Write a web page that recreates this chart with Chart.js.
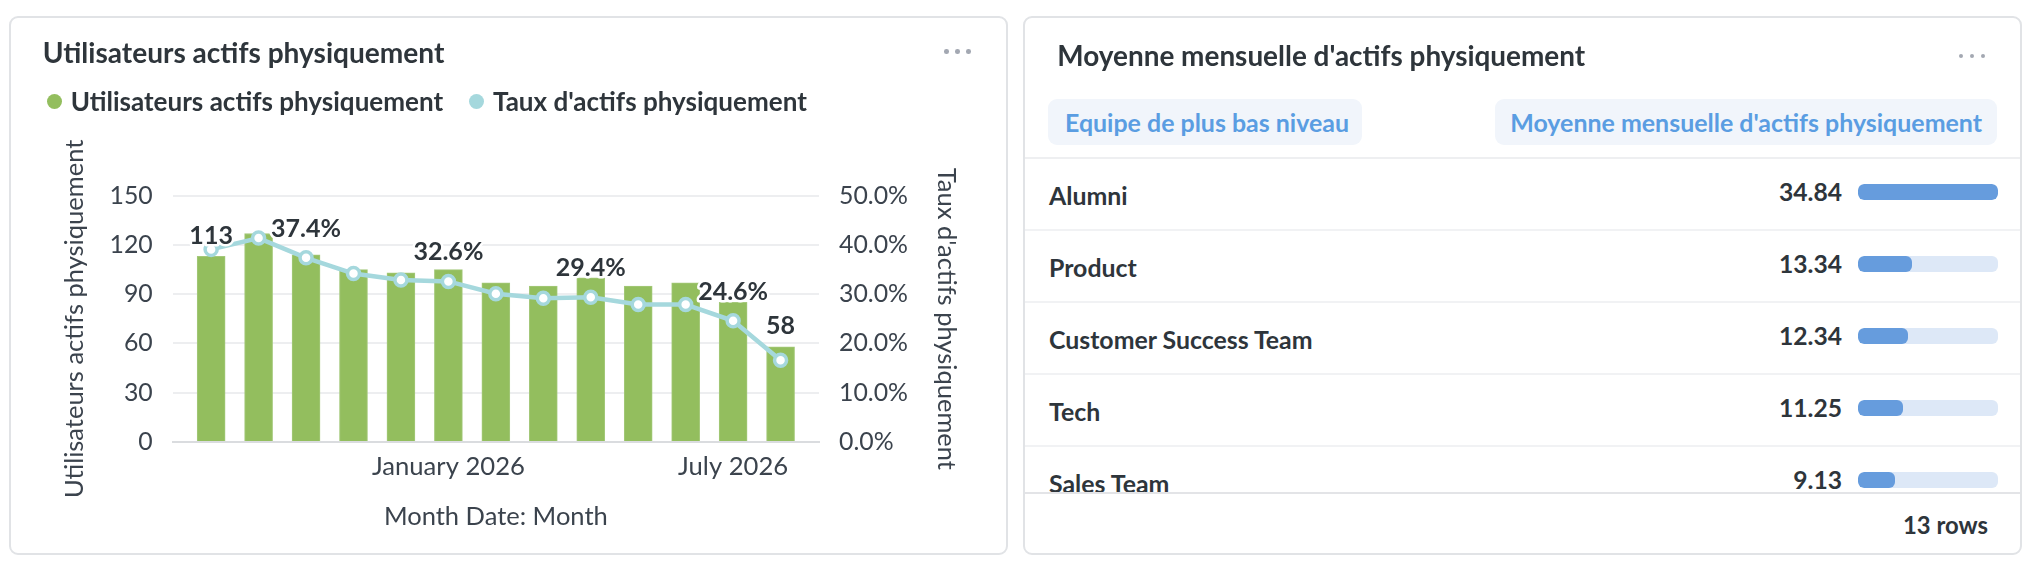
<!DOCTYPE html>
<html><head><meta charset="utf-8">
<script src="https://cdn.jsdelivr.net/npm/chart.js@4.4.1/dist/chart.umd.min.js"></script>
<style>
html,body{margin:0;padding:0;background:#fff;width:2026px;height:570px;overflow:hidden;font-family:Lato,"Noto Sans",sans-serif;color:#2E353B;}
.card{position:absolute;border:2px solid #E1E3E6;border-radius:9px;box-sizing:border-box;background:#fff;}
.t{position:absolute;line-height:1;white-space:nowrap;font-family:Lato,"Noto Sans",sans-serif;}
.abs{position:absolute;}
#c{position:absolute;left:0;top:0;width:1010px;height:570px;pointer-events:none;}
</style></head>
<body>
<div class="card" style="left:9px;top:16px;width:999px;height:539px;"></div>
<div class="card" style="left:1023px;top:16px;width:999px;height:539px;"></div>
<canvas id="c" width="1010" height="570"></canvas>
<script>
// ---------- data ----------
const months = ['August 2025','September 2025','October 2025','November 2025','December 2025','January 2026','February 2026','March 2026','April 2026','May 2026','June 2026','July 2026','August 2026'];
const activeUsers = [113,127,114,105,103,105,97,95,100,95,97,85,58];
const activeRate = [39.1,41.4,37.4,34.2,32.9,32.6,30.1,29.2,29.4,27.9,27.9,24.6,16.6];
const usersTicks = [0,30,60,90,120,150];
const rateTicks = [0,10,20,30,40,50];
const xTickMonths = ['January 2026','July 2026'];
const barLabelIdx = [0,12];
const lineLabelIdx = [2,5,8,11];
const teams = ['Alumni','Product','Customer Success Team','Tech','Sales Team'];
const teamAvg = [34.84,13.34,12.34,11.25,9.13];
const totalRows = 13;

// ---------- style ----------
const DARK = '#2E353B';
const TICK = '#3B434D';
const GREEN = '#93BE5E';
const TEAL = '#A5D8DD';
const BLUE = '#5A9DE2';
const W = 2026;

const mctx = document.createElement('canvas').getContext('2d');
function fitSize(text, weight, target){ mctx.font = weight+' 100px Lato'; return 100*target/mctx.measureText(text).width; }
function measure(text, weight, size){ mctx.font = weight+' '+size+'px Lato'; return mctx.measureText(text).width; }
function txt(text, o){
  const d=document.createElement('div'); d.className='t'; d.textContent=text;
  d.style.fontSize=o.size+'px'; d.style.fontWeight=o.weight||400; d.style.color=o.color||DARK;
  d.style.top=(o.base-0.887*o.size)+'px';
  if(o.align==='right') d.style.right=(W-o.x)+'px'; else d.style.left=o.x+'px';
  document.body.appendChild(d); return d;
}
function box(o){
  const d=document.createElement('div'); d.className='abs';
  Object.assign(d.style,o); document.body.appendChild(d); return d;
}
function dots(cx, cy){
  [-11,0,11].forEach(dx=>box({left:(cx+dx-2.3)+'px',top:(cy-2.3)+'px',width:'4.6px',height:'4.6px',borderRadius:'50%',background:'#A3A8B2'}));
}

// ---------- font sizes fitted to reference ----------
const titleSize = fitSize('Utilisateurs actifs physiquement','700',402);
const legendSize = fitSize('Utilisateurs actifs physiquement','700',372.6);
const tickSize = fitSize('50.0%','400',69);
const xTickSize = fitSize('January 2026','400',153);
const axisTitleSize = fitSize('Month Date: Month','400',224);
const labelSize = fitSize('37.4%','700',70);
const rTitleSize = fitSize("Moyenne mensuelle d'actifs physiquement",'700',528);
const chipSize = fitSize("Moyenne mensuelle d'actifs physiquement",'700',472);
const rowSize = fitSize('Customer Success Team','700',265);
const valSize = fitSize('34.84','700',63);
const footSize = fitSize('13 rows','700',85);

// ---------- left card header ----------
txt('Utilisateurs actifs physiquement',{x:42.7,base:62.7,size:titleSize,weight:700});
dots(957.5,51.7);

// ---------- chart ----------
const target = {left:172.7,right:819,top:195.7,bottom:442};
const CW = 1010, CH = 570;
let yLeftW = target.left, yRightW = CW-target.right, xH = CH-target.bottom;
const lhT = axisTitleSize*1.2, lhX = xTickSize*1.2;

const labelPlugin = {
  id:'vlabels',
  afterDatasetsDraw(chart){
    const ctx = chart.ctx;
    ctx.save();
    ctx.font = '700 '+labelSize+'px Lato';
    ctx.textAlign='center'; ctx.textBaseline='alphabetic';
    ctx.lineJoin='round'; ctx.lineWidth=5; ctx.strokeStyle='#fff'; ctx.fillStyle=DARK;
    const barMeta = chart.getDatasetMeta(1), lineMeta = chart.getDatasetMeta(0);
    barLabelIdx.forEach(i=>{ const el=barMeta.data[i]; const s=String(activeUsers[i]);
      ctx.strokeText(s,el.x,el.y-12.5); ctx.fillText(s,el.x,el.y-12.5); });
    lineLabelIdx.forEach(i=>{ const el=lineMeta.data[i]; const s=activeRate[i].toFixed(1)+'%';
      ctx.strokeText(s,el.x,el.y-21); ctx.fillText(s,el.x,el.y-21); });
    ctx.restore();
  }
};

const chart = new Chart(document.getElementById('c'),{
  type:'bar',
  data:{datasets:[
    {type:'line',label:"Taux d'actifs physiquement",data:months.map((m,i)=>({x:i,y:activeRate[i]})),
     yAxisID:'y1',xAxisID:'x',order:0,borderColor:TEAL,borderWidth:4.5,tension:0,
     pointRadius:6,pointHoverRadius:6,pointBorderWidth:3.5,pointBackgroundColor:'#fff',pointBorderColor:TEAL},
    {type:'bar',label:'Utilisateurs actifs physiquement',data:months.map((m,i)=>({x:i,y:activeUsers[i]})),
     yAxisID:'y',xAxisID:'x',order:1,backgroundColor:GREEN,borderColor:'#A4C97A',borderWidth:1,barThickness:28}
  ]},
  options:{
    responsive:false,animation:false,devicePixelRatio:1,
    layout:{padding:{top:target.top-15,left:0,right:0,bottom:0}},
    plugins:{legend:{display:false},tooltip:{enabled:false}},
    scales:{
      x:{type:'linear',offset:false,min:-0.81,max:12.81,
        grid:{display:false,drawTicks:false},
        border:{display:true,color:'#DADCDF',width:2},
        afterBuildTicks:s=>{s.ticks = xTickMonths.map(m=>({value:months.indexOf(m)}));},
        ticks:{autoSkip:false,maxRotation:0,padding:466.7-442-lhX/2,color:TICK,font:{family:'Lato',size:xTickSize},
          callback:v=>months[v]},
        afterFit:s=>{s.height=xH;},
        title:{display:true,text:'Month Date: Month',color:TICK,font:{family:'Lato',size:axisTitleSize},
          padding:{top:0,bottom:CH-516.7-lhT/2}}
      },
      y:{position:'left',min:0,max:150,
        afterBuildTicks:s=>{s.ticks = usersTicks.map(v=>({value:v}));},
        grid:{color:'#EDEEF0',lineWidth:2,drawTicks:false},
        border:{display:false},
        ticks:{padding:20,color:TICK,font:{family:'Lato',size:tickSize}},
        afterFit:s=>{s.width=yLeftW;},
        title:{display:true,text:'Utilisateurs actifs physiquement',color:TICK,font:{family:'Lato',size:axisTitleSize},
          padding:{top:75-lhT/2,bottom:0}}
      },
      y1:{position:'right',min:0,max:50,
        afterBuildTicks:s=>{s.ticks = rateTicks.map(v=>({value:v}));},
        grid:{display:false,drawTicks:false},
        border:{display:false},
        ticks:{padding:20,color:TICK,font:{family:'Lato',size:tickSize},callback:v=>v.toFixed(1)+'%'},
        afterFit:s=>{s.width=yRightW;},
        title:{display:true,text:"Taux d'actifs physiquement",color:TICK,font:{family:'Lato',size:axisTitleSize},
          padding:{top:(CW-946)-lhT/2,bottom:0}}
      }
    }
  },
  plugins:[labelPlugin]
});
// align chart area with reference
{
  const ca = chart.chartArea;
  chart.options.layout.padding.top += target.top-ca.top;
  yLeftW += target.left-ca.left;
  yRightW += ca.right-target.right;
  xH += ca.bottom-target.bottom;
  chart.update();
}

// ---------- legend (from datasets) ----------
{
  const order = [chart.data.datasets[1], chart.data.datasets[0]];
  let x = 46.7;
  order.forEach(ds=>{
    const col = ds.type==='bar' ? ds.backgroundColor : ds.borderColor;
    box({left:x+'px',top:(101.5-7.5)+'px',width:'15px',height:'15px',borderRadius:'50%',background:col});
    x += 15+9;
    txt(ds.label,{x:x,base:110.7,size:legendSize,weight:700});
    x += measure(ds.label,'700',legendSize)+25.8;
  });
}

// ---------- right card ----------
txt("Moyenne mensuelle d'actifs physiquement",{x:1057.3,base:66.7,size:rTitleSize,weight:700});
dots(1972,56);
box({left:'1048px',top:'99.3px',width:'314px',height:'46px',borderRadius:'9px',background:'#F1F5FB'});
box({left:'1495px',top:'99.3px',width:'502px',height:'46px',borderRadius:'9px',background:'#F1F5FB'});
txt('Equipe de plus bas niveau',{x:1065,base:131.7,size:chipSize,weight:700,color:BLUE});
txt("Moyenne mensuelle d'actifs physiquement",{x:1982,align:'right',base:131.7,size:chipSize,weight:700,color:BLUE});
box({left:'1025px',top:'157px',width:'995px',height:'2px',background:'#EEEFF1'});

const body = box({left:'1025px',top:'159px',width:'995px',height:'333px',overflow:'hidden'});
const maxAvg = Math.max(...teamAvg);
teams.forEach((t,i)=>{
  const top = i*72;
  const r = document.createElement('div');
  Object.assign(r.style,{position:'absolute',left:'0px',top:top+'px',width:'995px',height:'72px',borderBottom:'2px solid #F1F2F4',boxSizing:'border-box'});
  body.appendChild(r);
  const mk=(text,css)=>{const d=document.createElement('div'); d.className='t'; d.textContent=text; Object.assign(d.style,css); body.appendChild(d); return d;};
  mk(t,{left:(1049-1025)+'px',top:(205+72*i-159-0.887*rowSize)+'px',fontSize:rowSize+'px',fontWeight:700,color:DARK});
  mk(teamAvg[i].toFixed(2),{right:(1025+995-1842)+'px',top:(201.7+72*i-159-0.887*valSize)+'px',fontSize:valSize+'px',fontWeight:700,color:DARK});
  const bg=document.createElement('div');
  Object.assign(bg.style,{position:'absolute',left:(1858-1025)+'px',top:(184+72*i-159)+'px',width:'140px',height:'16px',borderRadius:'6px',background:'#DDE8F7',overflow:'hidden'});
  const fg=document.createElement('div');
  Object.assign(fg.style,{position:'absolute',left:'0',top:'0',height:'16px',width:(140*teamAvg[i]/maxAvg)+'px',borderRadius:'6px',background:'#669CDD'});
  bg.appendChild(fg); body.appendChild(bg);
});
box({left:'1025px',top:'492px',width:'995px',height:'2px',background:'#E3E4E7'});
txt(totalRows+' rows',{x:1988,align:'right',base:534,size:footSize,weight:700});
</script>
</body></html>
